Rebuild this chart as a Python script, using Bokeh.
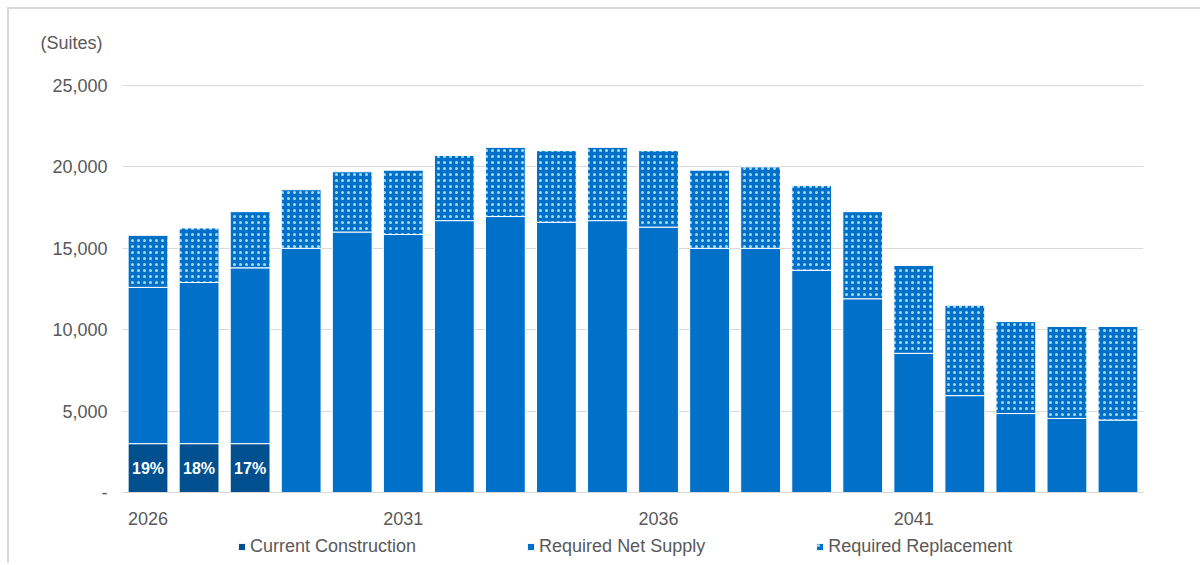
import numpy as np
from bokeh.plotting import figure
from bokeh.models import (ColumnDataSource, Range1d, FixedTicker, NumeralTickFormatter,
                          Legend, LegendItem, Title, LinearAxis)
from bokeh.core.properties import value
from bokeh.embed import file_html
from bokeh.resources import INLINE

# Annual supply requirement (suites)
years = list(range(2026, 2046))
current_construction = [3000, 3000, 3000, 0, 0, 0, 0, 0, 0, 0,
                        0, 0, 0, 0, 0, 0, 0, 0, 0, 0]
required_net_supply = [9600, 9900, 10800, 15000, 16000, 15850, 16700, 16950, 16600, 16700,
                       16300, 15000, 15000, 13650, 11900, 8550, 5950, 4850, 4550, 4450]
required_replacement = [3200, 3350, 3450, 3600, 3700, 3950, 4000, 4250, 4400, 4500,
                        4700, 4800, 5000, 5200, 5350, 5400, 5550, 5650, 5650, 5750]
x_tick_years = [2026, 2031, 2036, 2041]
y_ticks = [0, 5000, 10000, 15000, 20000, 25000]
series_names = ["Current Construction", "Required Net Supply", "Required Replacement"]

FONT = "Liberation Sans"
GREY = "#595959"
DARK_BLUE = "#00508f"
BLUE = "#0070c8"
DOT = "#a6dcf7"
FS = "18px"

cc = np.array(current_construction, dtype=float)
ns = np.array(required_net_supply, dtype=float)
rr = np.array(required_replacement, dtype=float)
total = cc + ns + rr

src = ColumnDataSource(dict(
    year=years,
    cc_top=cc,
    ns_bottom=cc, ns_top=cc + ns,
    rr_bottom=cc + ns, rr_top=total,
))

# The frame reaches down to the bottom edge so the year labels and legend sit inside it
p = figure(width=1193, height=556, output_backend="svg", toolbar_location=None,
           x_range=Range1d(2025.5, 2045.5), y_range=Range1d(-4484, 26536),
           x_axis_location=None,
           min_border_left=113, min_border_right=59, min_border_top=51, min_border_bottom=0)
p.styles = {"margin-left": "7px", "margin-top": "7px",
            "border-left": "2px solid #d9d9d9", "border-top": "2px solid #d9d9d9"}
p.outline_line_color = None
p.background_fill_color = "white"
p.border_fill_color = "white"

p.add_layout(Title(text="(Suites)", align="left", offset=-82, text_font=FONT,
                   text_font_size=FS, text_font_style="normal", text_color=GREY,
                   standoff=16), "above")

w = 0.78
r1 = p.vbar(x="year", bottom=0, top="cc_top", width=w, source=src,
            fill_color=DARK_BLUE, line_color="white", line_width=1)
r2 = p.vbar(x="year", bottom="ns_bottom", top="ns_top", width=w, source=src,
            fill_color=BLUE, line_color="white", line_width=1)
r3 = p.vbar(x="year", bottom="rr_bottom", top="rr_top", width=w, source=src,
            fill_color=BLUE, line_color="white", line_width=1,
            hatch_pattern="dot", hatch_color=DOT, hatch_scale=6, hatch_weight=1.6)

# Share of current construction in each year's total
lab_years = [y for y, c in zip(years, current_construction) if c > 0]
lab_y = [c / 2 for c in current_construction if c > 0]
lab_txt = [f"{round(c / t * 100)}%" for c, t in zip(cc, total) if c > 0]
p.text(x=lab_years, y=lab_y, text=lab_txt, text_font=value(FONT), text_font_size="16px",
       text_font_style="bold", text_color="white", text_align="center", text_baseline="middle")

p.xgrid.visible = False
p.ygrid.grid_line_color = "#d9d9d9"
p.ygrid.grid_line_width = 1
p.ygrid.ticker = FixedTicker(ticks=y_ticks)

xaxis = LinearAxis(fixed_location=0, ticker=FixedTicker(ticks=x_tick_years),
                   axis_line_color="#d9d9d9", axis_line_width=1,
                   major_tick_line_color=None, minor_tick_line_color=None,
                   major_label_standoff=13, major_label_text_font=FONT,
                   major_label_text_font_size=FS, major_label_text_color=GREY)
p.add_layout(xaxis, "below")

p.yaxis.ticker = FixedTicker(ticks=y_ticks)
p.yaxis.formatter = NumeralTickFormatter(format="0,0")
p.yaxis.major_label_overrides = {0: "-"}
p.yaxis.axis_line_color = None
p.yaxis.major_tick_line_color = None
p.yaxis.minor_tick_line_color = None
p.yaxis.major_label_standoff = 9
p.yaxis.major_label_text_font = FONT
p.yaxis.major_label_text_font_size = FS
p.yaxis.major_label_text_color = GREY

legend = Legend(items=[LegendItem(label=series_names[0], renderers=[r1]),
                       LegendItem(label=series_names[1], renderers=[r2]),
                       LegendItem(label=series_names[2], renderers=[r3])],
                orientation="horizontal", location=(115, 8),
                glyph_width=9, glyph_height=9, label_height=18,
                label_standoff=4, spacing=110, padding=0, margin=0,
                label_text_font=FONT, label_text_font_size=FS, label_text_color=GREY,
                border_line_color=None, background_fill_alpha=0)
p.add_layout(legend, "center")

open("out.html", "w").write(file_html(p, INLINE))
